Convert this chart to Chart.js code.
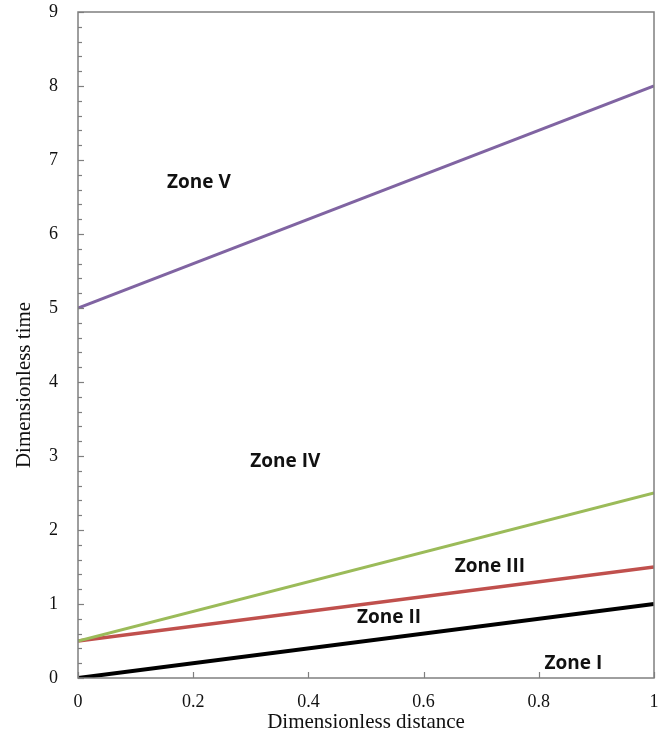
<!DOCTYPE html>
<html>
<head>
<meta charset="utf-8">
<script src="https://cdn.jsdelivr.net/npm/chart.js@4"></script>
<style>
  html, body { margin: 0; padding: 0; background: #fff; }
  #wrap { width: 670px; height: 740px; }
</style>
</head>
<body>
<div id="wrap"><canvas id="chart"></canvas></div>
<script>
// values
const distance = [0, 1];
const lineZoneI = [0, 1];      // black
const lineZoneII = [0.5, 1.5]; // red
const lineZoneIII = [0.5, 2.5]; // green
const lineZoneIV = [5, 8];     // purple

const zoneNames = ["Zone I", "Zone II", "Zone III", "Zone IV", "Zone V"];
const zoneX = [0.86, 0.54, 0.715, 0.36, 0.21];
const zoneY = [0.19, 0.81, 1.51, 2.93, 6.69];

function pts(ys) {
  return distance.map(function (x, i) { return { x: x, y: ys[i] }; });
}

// inner ticks, frame, zone text and axis titles
var extras = {
  id: "extras",
  afterDatasetsDraw: function (chart) {
    var ctx = chart.ctx;
    var a = chart.chartArea;
    var xs = chart.scales.x, ys = chart.scales.y;
    ctx.save();
    ctx.strokeStyle = "#7f7f7f";
    ctx.lineWidth = 1.2;
    // y minor ticks every 0.2
    for (var v = 0; v <= 9.001; v += 0.2) {
      var py = Math.round(ys.getPixelForValue(v)) + 0.5;
      var isMajor = Math.abs(v - Math.round(v)) < 0.01;
      ctx.beginPath();
      ctx.moveTo(a.left, py);
      ctx.lineTo(a.left + (isMajor ? 6 : 4), py);
      ctx.stroke();
    }
    xs.ticks.forEach(function (t) {
      var px = Math.round(xs.getPixelForValue(t.value)) + 0.5;
      ctx.beginPath();
      ctx.moveTo(px, a.bottom);
      ctx.lineTo(px, a.bottom - 6);
      ctx.stroke();
    });
    ctx.lineWidth = 1.5;
    ctx.strokeRect(a.left, a.top, a.right - a.left, a.bottom - a.top);

    ctx.fillStyle = "#111";
    ctx.font = "bold 19px 'Open Sans'";
    ctx.textAlign = "center";
    ctx.textBaseline = "middle";
    zoneNames.forEach(function (name, i) {
      ctx.fillText(name, xs.getPixelForValue(zoneX[i]), ys.getPixelForValue(zoneY[i]));
    });

    ctx.font = "21px 'Liberation Serif'";
    ctx.fillText("Dimensionless distance", (a.left + a.right) / 2, 722);
    ctx.translate(24, 385);
    ctx.rotate(-Math.PI / 2);
    ctx.fillText("Dimensionless time", 0, 0);
    ctx.restore();
  }
};

var tickFont = { family: "'Liberation Serif'", size: 18 };

new Chart(document.getElementById("chart"), {
  type: "line",
  data: {
    datasets: [
      { data: pts(lineZoneIV), borderColor: "#8064a2", borderWidth: 3 },
      { data: pts(lineZoneIII), borderColor: "#9bbb59", borderWidth: 3 },
      { data: pts(lineZoneII), borderColor: "#c0504d", borderWidth: 3.5 },
      { data: pts(lineZoneI), borderColor: "#000000", borderWidth: 4 }
    ]
  },
  options: {
    responsive: true,
    maintainAspectRatio: false,
    animation: false,
    elements: { point: { radius: 0 }, line: { tension: 0 } },
    layout: { padding: { top: 12, right: 16, left: 0, bottom: 0 } },
    plugins: { legend: { display: false }, tooltip: { enabled: false } },
    scales: {
      x: {
        type: "linear",
        min: 0,
        max: 1,
        grid: { display: false },
        border: { display: false },
        ticks: {
          stepSize: 0.2, color: "#111", font: tickFont, padding: 5, maxRotation: 0,
          callback: function (v) { return String(+v.toFixed(1)); }
        },
        afterFit: function (s) { s.height = 62; }
      },
      y: {
        min: 0,
        max: 9,
        grid: { display: false },
        border: { display: false },
        ticks: { stepSize: 1, color: "#111", font: tickFont, padding: 12 },
        afterFit: function (s) { s.width = 78; s.paddingTop = 0; s.paddingBottom = 0; }
      }
    }
  },
  plugins: [extras]
});
</script>
</body>
</html>
